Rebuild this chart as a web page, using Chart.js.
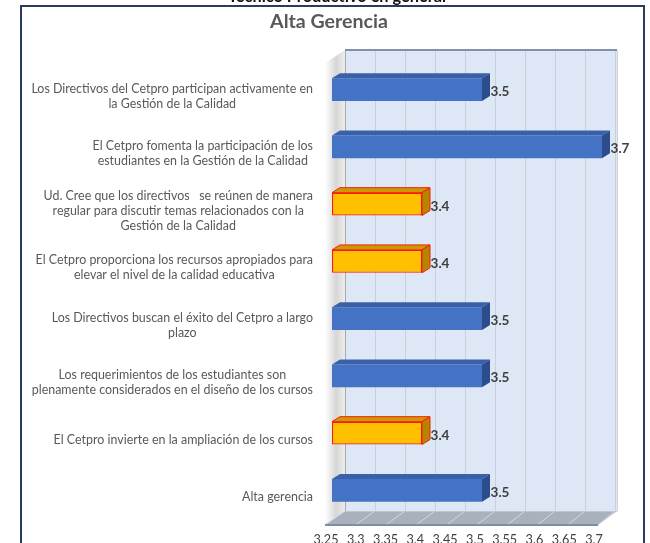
<!DOCTYPE html>
<html><head><meta charset="utf-8">
<script src="https://cdn.jsdelivr.net/npm/chart.js@4.4.1/dist/chart.umd.min.js"></script>
<style>html,body{margin:0;padding:0;background:#fff;overflow:hidden}canvas{display:block}</style>
</head><body>
<canvas id="c" width="650" height="543"></canvas>
<script>
const pageTitle = "Técnico Productivo en general";
const chartTitle = "Alta Gerencia";
const categories = [
  ["Los Directivos del Cetpro participan activamente en", "la Gestión de la Calidad"],
  ["El Cetpro fomenta la participación de los", "estudiantes en la Gestión de la Calidad"],
  ["Ud. Cree que los directivos   se reúnen de manera", "regular para discutir temas relacionados con la", "Gestión de la Calidad"],
  ["El Cetpro proporciona los recursos apropiados para", "elevar el nivel de la calidad educativa"],
  ["Los Directivos buscan el éxito del Cetpro a largo", "plazo"],
  ["Los requerimientos de los estudiantes son", "plenamente considerados en el diseño de los cursos"],
  ["El Cetpro invierte en la ampliación de los cursos"],
  ["Alta gerencia"]
];
const values = [3.5, 3.7, 3.4, 3.4, 3.5, 3.5, 3.4, 3.5];
const highlighted = [false, false, true, true, false, false, true, false];
const xMin = 3.25, xMax = 3.7;
const xTicks = [3.25, 3.3, 3.35, 3.4, 3.45, 3.5, 3.55, 3.6, 3.65, 3.7];
const xTickLabels = ["3.25", "3.3", "3.35", "3.4", "3.45", "3.5", "3.55", "3.6", "3.65", "3.7"];

const BLUE = {front:'#4472C4', top:'#3A60A9', side:'#2C4C8C', border:'#4472C4'};
const GOLD = {front:'#FFC000', top:'#C99A06', side:'#B38600', border:'#FF1A00'};
const FAM = 'Lato';

function fitSize(c, text, weight, target){
  c.font = weight + ' 100px ' + FAM;
  return 100 * target / c.measureText(text).width;
}

const threeD = {
  id:'threeD',
  beforeDraw(chart){
    const c = chart.ctx;
    c.save();
    c.fillStyle = '#fff';
    c.fillRect(0,0,chart.width,chart.height);
    let s = fitSize(c, pageTitle, 'bold', 218);
    c.font = 'bold ' + s + 'px ' + FAM;
    c.fillStyle = '#111';
    c.textAlign = 'center'; c.textBaseline = 'alphabetic';
    c.fillText(pageTitle, 337, 2);
    c.strokeStyle = '#2B3B5C'; c.lineWidth = 2;
    c.strokeRect(21, 6, 623, 600);
    s = fitSize(c, chartTitle, 'bold', 118);
    c.font = 'bold ' + s + 'px ' + FAM;
    c.fillStyle = '#595959';
    c.fillText(chartTitle, 329, 28);
    c.restore();
  },
  beforeDatasetsDraw(chart){
    const c = chart.ctx, a = chart.chartArea, xs = chart.scales.x;
    const L=a.left, R=a.right, T=a.top, B=a.bottom;
    const bwL = L+13, bwW = (R-L), bwTop = T-11, bwBot = B-8;
    const fL = L-7, fR = R-4, fY = B+6;
    c.save();
    const g = c.createLinearGradient(fL,0,bwL,0);
    g.addColorStop(0,'rgba(255,255,255,1)');
    g.addColorStop(0.55,'#D6D6D6');
    g.addColorStop(1,'#EDEDED');
    c.fillStyle = g;
    c.beginPath(); c.moveTo(bwL,bwTop); c.lineTo(bwL,bwBot); c.lineTo(fL,fY); c.lineTo(fL,T+2); c.closePath(); c.fill();
    c.fillStyle = '#DDE7F5';
    c.fillRect(bwL, bwTop, bwW+2, bwBot-bwTop);
    c.strokeStyle = '#C7D1DD'; c.lineWidth = 1;
    xTicks.forEach(v=>{
      const gx = Math.round(xs.getPixelForValue(v) + 13) + 0.5;
      c.beginPath(); c.moveTo(gx,bwTop); c.lineTo(gx,bwBot); c.stroke();
    });
    c.strokeStyle = '#A9A9A9';
    c.beginPath(); c.moveTo(bwL+0.5,bwTop); c.lineTo(bwL+0.5,bwBot); c.stroke();
    c.strokeStyle = '#D2D2D2';
    c.beginPath(); c.moveTo(bwL+bwW+2.5,bwTop); c.lineTo(bwL+bwW+2.5,bwBot); c.stroke();
    c.strokeStyle = '#8191A8'; c.lineWidth = 2;
    c.beginPath(); c.moveTo(bwL,bwTop); c.lineTo(bwL+bwW+2,bwTop); c.stroke();
    c.fillStyle = '#A8B1BC';
    c.beginPath(); c.moveTo(bwL,bwBot); c.lineTo(bwL+bwW+2,bwBot); c.lineTo(fR,fY); c.lineTo(fL,fY); c.closePath(); c.fill();
    c.strokeStyle = '#D3DAE3'; c.lineWidth = 1;
    xTicks.forEach((v,i)=>{
      const frac = i/(xTicks.length-1);
      const gx = xs.getPixelForValue(v) + 13;
      const fx = fL + frac*(fR-fL);
      c.beginPath(); c.moveTo(gx,bwBot); c.lineTo(fx,fY); c.stroke();
    });
    c.strokeStyle = '#7D8EA6'; c.lineWidth = 2;
    c.beginPath(); c.moveTo(fL,fY); c.lineTo(fR,fY); c.stroke();
    c.strokeStyle = '#BFC6CF'; c.lineWidth = 1;
    c.beginPath(); c.moveTo(bwL,bwBot+0.5); c.lineTo(bwL+bwW+2,bwBot+0.5); c.stroke();
    c.restore();
  },
  afterDatasetsDraw(chart){
    const c = chart.ctx, xs = chart.scales.x;
    const meta = chart.getDatasetMeta(0);
    const dx = 8, dy = 5;
    c.save();
    const ls = fitSize(c, '3.5', 'bold', 19);
    meta.data.forEach((bar,i)=>{
      const p = bar.getProps(['x','y','base','height'], true);
      const col = highlighted[i] ? GOLD : BLUE;
      const top = p.y - p.height/2, bot = p.y + p.height/2;
      c.lineWidth = 1;
      c.fillStyle = col.top;
      c.beginPath(); c.moveTo(p.base,top); c.lineTo(p.base+dx,top-dy); c.lineTo(p.x+dx,top-dy); c.lineTo(p.x,top); c.closePath(); c.fill();
      if (highlighted[i]) { c.strokeStyle = col.border; c.stroke(); }
      c.fillStyle = col.side;
      c.beginPath(); c.moveTo(p.x,top); c.lineTo(p.x+dx,top-dy); c.lineTo(p.x+dx,bot-dy); c.lineTo(p.x,bot); c.closePath(); c.fill();
      if (highlighted[i]) { c.strokeStyle = col.border; c.stroke(); }
      c.font = 'bold ' + ls + 'px ' + FAM;
      c.fillStyle = '#404040';
      c.textAlign = 'left'; c.textBaseline = 'middle';
      c.fillText(String(values[i]), p.x + dx + 0.5, p.y + 2);
    });
    const cs = fitSize(c, categories[0][0], 'normal', 282);
    c.font = cs + 'px ' + FAM;
    c.fillStyle = '#595959';
    c.textAlign = 'center'; c.textBaseline = 'middle';
    const ys = chart.scales.y;
    categories.forEach((lines,i)=>{
      const cy = ys.getPixelForTick(i) + 6.5;
      const bw = Math.max(...lines.map(t=>c.measureText(t).width));
      const cx = 313 - bw/2;
      const lh = 15;
      lines.forEach((t,j)=>{
        c.fillText(t, cx, cy + (j - (lines.length-1)/2)*lh);
      });
    });
    const ts = fitSize(c, '3.25', 'normal', 25);
    c.font = ts + 'px ' + FAM;
    c.fillStyle = '#404040';
    c.textAlign = 'center'; c.textBaseline = 'alphabetic';
    xTicks.forEach((v,i)=>{
      const frac = i/(xTicks.length-1);
      c.fillText(xTickLabels[i], xs.getPixelForValue(v) - 6 - 2*frac, 535 + ts*0.72);
    });
    c.restore();
  }
};

new Chart(document.getElementById('c').getContext('2d'), {
  type:'bar',
  data:{
    labels: categories,
    datasets:[{
      data: values,
      base: xMin,
      backgroundColor: values.map((v,i)=> highlighted[i] ? GOLD.front : BLUE.front),
      borderColor: values.map((v,i)=> highlighted[i] ? GOLD.border : BLUE.front),
      borderWidth: values.map((v,i)=> highlighted[i] ? 1.3 : 0),
      borderSkipped: false,
      barPercentage: 0.4,
      categoryPercentage: 1,
      clip: false
    }]
  },
  options:{
    indexAxis:'y',
    responsive:false,
    animation:false,
    layout:{padding:{left:332, right:48, top:61, bottom:24}},
    plugins:{legend:{display:false}, tooltip:{enabled:false}, title:{display:false}},
    scales:{
      x:{display:false, min:xMin, max:xMax},
      y:{display:false}
    }
  },
  plugins:[threeD]
});
</script>
</body></html>
